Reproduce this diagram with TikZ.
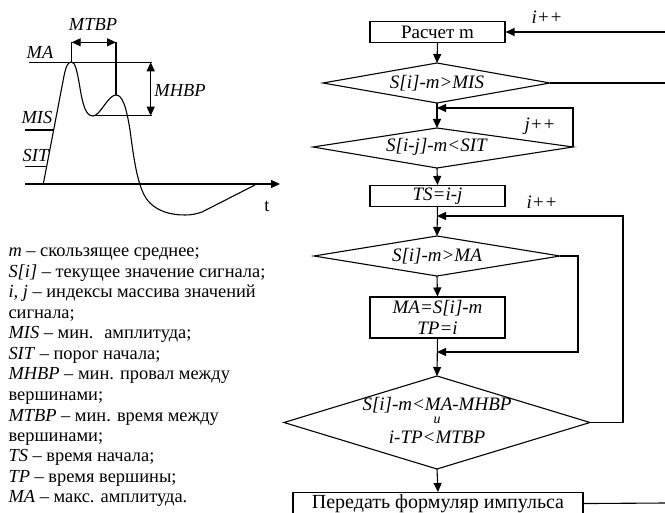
\documentclass[tikz,border=0pt]{standalone}
\usepackage{fontspec}
\setmainfont{Liberation Serif}
\usetikzlibrary{arrows.meta}
\begin{document}
\begin{tikzpicture}[x=1pt,y=-1pt, line width=1.1pt,
  every node/.style={font=\fontsize{18.4}{20}\selectfont, inner sep=0pt},
  fc/.style={font=\fontsize{19}{20}\selectfont},
  arr/.style={-{Triangle[length=9pt,width=8pt]}},
  dbl/.style={{Triangle[length=9pt,width=8pt]}-{Triangle[length=9pt,width=8pt]}},
  box/.style={draw, minimum width=135pt, minimum height=21pt, fc},
  leg/.style={anchor=base west},
  small/.style={font=\fontsize{14}{14}\selectfont},
]
\useasboundingbox (0,0) rectangle (665,513);

% ---------- signal graph ----------
\coordinate (mtl) at (71.7,42.3);
\coordinate (mtr) at (116,42.3);
\draw[dbl] (mtl) -- (mtr);
\draw (71.7,42) -- (71.7,62);
\draw (116,42) -- (116,95);
\draw (29,62.3) -- (151.7,62.3);
\coordinate (mht) at (150.7,62.3);
\coordinate (mhb) at (150.7,115.7);
\draw[dbl] (mht) -- (mhb);
\draw (93,115.7) -- (151.7,115.7);
\draw (25,130) -- (53,130);
\draw (25,166.7) -- (46.7,166.7);
\coordinate (ax0) at (25,184);
\coordinate (ax1) at (280,184);
\draw[arr] (ax0) -- (ax1);
\draw (43.3,184) -- (64,76) .. controls (66,66) and (68,62) .. (71.5,62)
  .. controls (75,62) and (77,70) .. (80,88)
  .. controls (83,106) and (86,116) .. (93,116)
  .. controls (100,116) and (108,95) .. (116,95)
  .. controls (122,95) and (126,105) .. (130,130)
  .. controls (134,160) and (138,192) .. (150,203)
  .. controls (158,211) and (170,215) .. (185,215)
  .. controls (192,215) and (196,214) .. (202,212) -- (255,185);
\node (lMTBP) at (93,25) {\textit{MTBP}};
\node (lMA) at (40,52.5) {\textit{MA}};
\node (lMHBP) at (180,91) {\textit{MHBP}};
\node (lMIS) at (37,118) {\textit{MIS}};
\node (lSIT) at (36,156) {\textit{SIT}};
\node (lt) at (267,206) {t};

% ---------- legend ----------
\node[leg] (g1) at (8,257) {\textit{m} – скользящее среднее;};
\node[leg] (g2) at (8,277.5) {\textit{S[i]} – текущее значение сигнала;};
\node[leg] (g3) at (8,298) {\textit{i, j} – индексы массива значений};
\node[leg] (g4) at (8,318.5) {сигнала;};
\node[leg] (g5) at (8,339) {\textit{MIS} – мин.~ амплитуда;};
\node[leg] (g6) at (8,359.5) {\textit{SIT} – порог начала;};
\node[leg] (g7) at (8,380) {\textit{MHBP} – мин. провал между};
\node[leg] (g8) at (8,400.5) {вершинами;};
\node[leg] (g9) at (8,421) {\textit{MTBP} – мин. время между};
\node[leg] (g10) at (8,441.5) {вершинами;};
\node[leg] (g11) at (8,462) {\textit{TS} – время начала;};
\node[leg] (g12) at (8,482.5) {\textit{TP} – время вершины;};
\node[leg] (g13) at (8,503) {\textit{MA} – макс. амплитуда.};

% ---------- flowchart ----------
\node[box] (calc) at (437.5,32) {Расчет m};
\coordinate (e1) at (666,32);
\draw[arr] (e1) -- (calc.east);
\node[fc] (ipp1) at (547,17) {\textit{i++}};

% diamond 1
\coordinate (d1t) at (437,63);
\coordinate (d1r) at (550,83);
\coordinate (d1b) at (437,103);
\coordinate (d1l) at (323,83);
\draw (d1t) -- (d1r) -- (d1b) -- (d1l) -- cycle;
\node[fc] (d1) at (437,83) {\textit{S[i]-m>MIS}};
\draw[arr] (calc.south) -- (d1t);
\coordinate (e2) at (666,83);
\draw (d1r) -- (e2);

% diamond 2
\coordinate (d2t) at (437,128);
\coordinate (d2r) at (573,147);
\coordinate (d2b) at (437,168);
\coordinate (d2l) at (313,147);
\draw (d2t) -- (d2r) -- (d2b) -- (d2l) -- cycle;
\node[fc] (d2) at (437,147) {\textit{S[i-j]-m<SIT}};
\draw[arr] (d1b) -- (d2t);
\coordinate (m1) at (437,108);
\draw[arr] (d2r) -- (573,108) -- (m1);
\node[fc] (jpp) at (540,126) {\textit{j++}};

% TS box
\node[box] (ts) at (437.5,196) {\textit{TS=i-j}};
\draw[arr] (d2b) -- (ts.north);

% diamond 3
\coordinate (d3t) at (437,236);
\coordinate (d3r) at (560,256);
\coordinate (d3b) at (437,276);
\coordinate (d3l) at (314,256);
\draw (d3t) -- (d3r) -- (d3b) -- (d3l) -- cycle;
\node[fc] (d3) at (437,256) {\textit{S[i]-m>MA}};
\draw[arr] (ts.south) -- (d3t);

% MA box
\node[box, minimum height=41pt] (ma) at (437.5,317.5) {};
\node[fc] (ma1) at (437.5,308) {\textit{MA=S[i]-m}};
\node[fc] (ma2) at (437.5,328) {\textit{TP=i}};
\draw[arr] (d3b) -- (ma.north);
\coordinate (m3) at (437,352);
\draw[arr] (d3r) -- (578,256) -- (578,352) -- (m3);

% diamond 4
\coordinate (d4t) at (437,376);
\coordinate (d4r) at (590,422.5);
\coordinate (d4b) at (437,469);
\coordinate (d4l) at (284,422.5);
\draw (d4t) -- (d4r) -- (d4b) -- (d4l) -- cycle;
\node[fc, anchor=base] (d4a) at (437,410) {\textit{S[i]-m<MA-MHBP}};
\node[small, anchor=base] (d4i) at (437,424) {\textit{и}};
\node[fc, anchor=base] (d4c) at (437,443) {\textit{i-TP<MTBP}};
\draw[arr] (ma.south) -- (d4t);
\coordinate (m2) at (437,216);
\draw[arr] (d4r) -- (623,422.5) -- (623,216) -- (m2);
\node[fc] (ipp2) at (542,202) {\textit{i++}};

% send box
\node[draw, minimum width=290pt, minimum height=22pt, anchor=north, font=\fontsize{20}{20}\selectfont] (send) at (438,492) {Передать формуляр импульса};
\draw[arr] (d4b) -- (send.north);
\coordinate (e3) at (666,503);
\draw (send.east) -- (e3);
\end{tikzpicture}
\end{document}
